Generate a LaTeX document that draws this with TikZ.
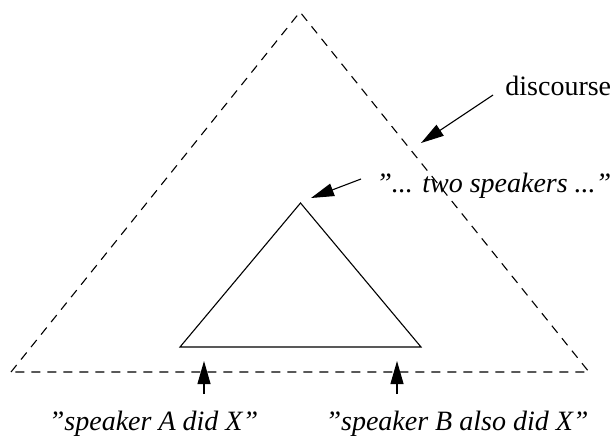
\documentclass[tikz,border=0pt]{standalone}
\usepackage{fontspec}
\setmainfont{Liberation Serif}
\usetikzlibrary{arrows.meta}
\newcommand{\sq}{\symbol{34}}

\begin{document}
\begin{tikzpicture}[
  x=0.5pt, y=-0.5pt,
  lbl/.style={inner sep=0pt, font=\fontsize{14pt}{16pt}\selectfont\itshape},
  arr/.style={-{Triangle[length=11.5pt,width=6.5pt]}, line width=0.55pt},
  dashline/.style={dash pattern=on 4.5pt off 3.5pt, line width=0.55pt}
]
  \useasboundingbox (0,0) rectangle (613,439);

  % outer (discourse) and inner triangle
  \draw[dashline] (11,372) -- (300,12) -- (589,372) -- cycle;
  \draw[line width=0.55pt] (180,347) -- (300.5,203) -- (421,347) -- cycle;

  \coordinate (discTip) at (421,143);
  \coordinate (twoTip)  at (311,198);
  \coordinate (tipA)    at (204,361);
  \coordinate (tipB)    at (397,361);

  \node[lbl, font=\fontsize{14pt}{16pt}\selectfont, anchor=base west] (disc) at (505,95) {discourse};
  \node[lbl, anchor=base west] (two) at (376,192) {\sq... two speakers ...\sq};
  \node[lbl, inner ysep=8pt, anchor=base] (spkA) at (153.5,430) {\sq speaker A did X\sq};
  \node[lbl, inner ysep=8pt, anchor=base] (spkB) at (457,430) {\sq speaker B also did X\sq};

  \draw[arr] ([shift={(-6pt,0pt)}]disc.base west) -- (discTip);
  \draw[arr] ([shift={(-7.5pt,6.5pt)}]two.base west) -- (twoTip);
  \draw[arr] (spkA.north -| tipA) -- (tipA);
  \draw[arr] (spkB.north -| tipB) -- (tipB);
\end{tikzpicture}
\end{document}
